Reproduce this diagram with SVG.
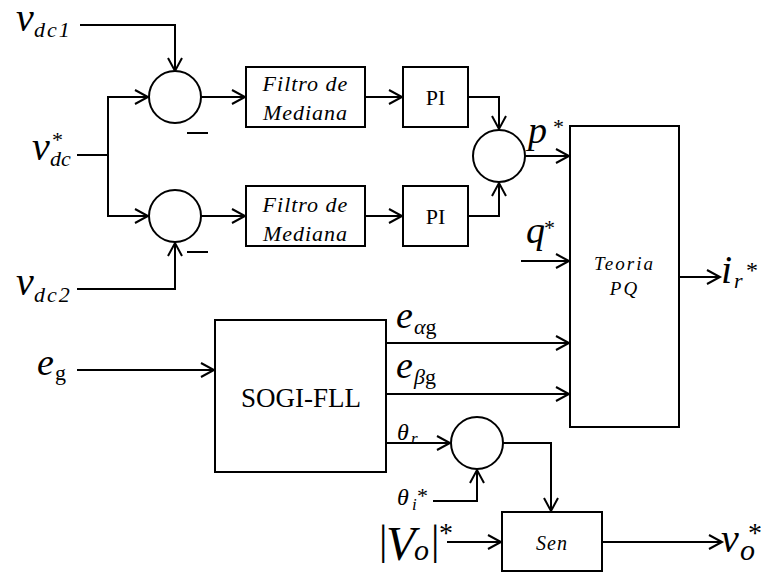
<svg xmlns="http://www.w3.org/2000/svg" width="761" height="572" viewBox="0 0 761 572">
<defs>
<style>
.blk{fill:#fff;stroke:#000;stroke-width:2}
.sum{fill:#fff;stroke:#000;stroke-width:2}
.w{fill:none;stroke:#000;stroke-width:2}
.wa{fill:none;stroke:#000;stroke-width:2;marker-end:url(#ah)}
.t{font-family:"Liberation Serif","Times New Roman",serif;fill:#000}
.i{font-style:italic}
.n{font-style:normal}
</style>
<marker id="ah" markerUnits="userSpaceOnUse" viewBox="0 0 15 16" refX="14" refY="8" markerWidth="15" markerHeight="16" orient="auto" overflow="visible">
<path d="M1,1 L14,8 L1,15" fill="none" stroke="#000" stroke-width="2"/>
</marker>
</defs>
<rect width="761" height="572" fill="#fff"/>

<g id="connectors">
<path class="wa" d="M80,25 H175 V71"/>
<path class="w" d="M77,155 H108"/>
<path class="wa" d="M108,155 V97 H148"/>
<path class="wa" d="M108,155 V216 H148"/>
<path class="wa" d="M77,289 H175 V243"/>
<path class="wa" d="M201,97 H245"/>
<path class="wa" d="M201,216 H245"/>
<path class="wa" d="M365,97 H402"/>
<path class="wa" d="M365,216 H402"/>
<path class="wa" d="M468,97 H499 V129"/>
<path class="wa" d="M468,216 H499 V183"/>
<path class="wa" d="M525,156 H569"/>
<path class="wa" d="M521,261 H569"/>
<path class="wa" d="M679,277 H720"/>
<path class="wa" d="M77,370 H214"/>
<path class="wa" d="M386,343 H569"/>
<path class="wa" d="M386,394 H569"/>
<path class="wa" d="M386,443 H450"/>
<path class="wa" d="M433,501 H477 V470"/>
<path class="wa" d="M503,443 H551 V511"/>
<path class="wa" d="M447,542 H501"/>
<path class="wa" d="M602,542 H722"/>
<path class="w" d="M187,133 H208" stroke-width="1.5"/>
<path class="w" d="M187,252 H208" stroke-width="1.5"/>
</g>

<g id="sum1"><circle class="sum" cx="175" cy="97" r="26"/></g>
<g id="sum2"><circle class="sum" cx="175" cy="216" r="26"/></g>
<g id="sum3"><circle class="sum" cx="499" cy="156" r="26"/></g>
<g id="sum4"><circle class="sum" cx="477" cy="443" r="26"/></g>

<g id="filtro1">
<rect class="blk" x="246" y="67" width="119" height="60"/>
<text class="t i" x="305.5" y="91" font-size="22" text-anchor="middle" letter-spacing="1">Filtro de</text>
<text class="t i" x="305.5" y="120" font-size="22" text-anchor="middle" letter-spacing="1">Mediana</text>
</g>
<g id="filtro2">
<rect class="blk" x="246" y="186" width="119" height="60"/>
<text class="t i" x="305.5" y="212" font-size="22" text-anchor="middle" letter-spacing="1">Filtro de</text>
<text class="t i" x="305.5" y="241" font-size="22" text-anchor="middle" letter-spacing="1">Mediana</text>
</g>
<g id="pi1">
<rect class="blk" x="403" y="67" width="65" height="60"/>
<text class="t" x="435.5" y="105" font-size="22" text-anchor="middle">PI</text>
</g>
<g id="pi2">
<rect class="blk" x="403" y="186" width="65" height="60"/>
<text class="t" x="435.5" y="224" font-size="22" text-anchor="middle">PI</text>
</g>
<g id="teoriapq">
<rect class="blk" x="570" y="126" width="109" height="301"/>
<text class="t i" x="624.5" y="270" font-size="19" text-anchor="middle" letter-spacing="2">Teoria</text>
<text class="t i" x="624.5" y="295" font-size="19" text-anchor="middle" letter-spacing="2">PQ</text>
</g>
<g id="sogi">
<rect class="blk" x="215" y="320" width="171" height="152"/>
<text class="t" x="301" y="407" font-size="27" text-anchor="middle">SOGI-FLL</text>
</g>
<g id="sen">
<rect class="blk" x="502" y="512" width="100" height="59"/>
<text class="t i" x="552" y="550" font-size="20" text-anchor="middle" letter-spacing="1">Sen</text>
</g>

<g id="labels">
<text class="t i"><tspan x="16" y="31" font-size="40">v</tspan><tspan x="34" y="37" font-size="22" letter-spacing="2">dc1</tspan></text>

<text class="t i"><tspan x="32" y="160" font-size="40">v</tspan><tspan class="n" x="52" y="147" font-size="22">*</tspan><tspan x="50" y="166" font-size="22">dc</tspan></text>

<text class="t i"><tspan x="16" y="295" font-size="40">v</tspan><tspan x="34" y="302" font-size="22" letter-spacing="2">dc2</tspan></text>

<text class="t i"><tspan x="37" y="375" font-size="38">e</tspan><tspan class="n" x="55" y="380" font-size="22">g</tspan></text>

<text class="t i"><tspan x="528" y="143" font-size="38">p</tspan><tspan class="n" x="553" y="134" font-size="22">*</tspan></text>

<text class="t i"><tspan x="526" y="243" font-size="38">q</tspan><tspan class="n" x="544" y="235" font-size="22">*</tspan></text>

<text class="t i"><tspan x="721" y="283" font-size="40">i</tspan><tspan x="734" y="288" font-size="22">r</tspan><tspan class="n" x="746" y="278" font-size="24">*</tspan></text>

<text class="t i"><tspan x="396" y="328" font-size="38">e</tspan><tspan x="414" y="334" font-size="22">α</tspan><tspan class="n" font-size="22">g</tspan></text>

<text class="t i"><tspan x="396" y="378" font-size="38">e</tspan><tspan x="414" y="384" font-size="22">β</tspan><tspan class="n" font-size="22">g</tspan></text>

<text class="t i"><tspan x="397" y="440" font-size="24">θ</tspan><tspan x="411" y="444" font-size="17">r</tspan></text>

<text class="t i"><tspan x="397" y="505" font-size="24">θ</tspan><tspan x="412" y="510" font-size="17">i</tspan><tspan class="n" x="417" y="503" font-size="22">*</tspan></text>

<text class="t i"><tspan class="n" x="379" y="554" font-size="42">|</tspan><tspan x="386" y="560" font-size="48">V</tspan><tspan x="414" y="560" font-size="30">o</tspan><tspan class="n" x="431" y="554" font-size="42">|</tspan><tspan class="n" x="439" y="542" font-size="28">*</tspan></text>

<text class="t i"><tspan x="721" y="552" font-size="40">v</tspan><tspan x="740" y="560" font-size="30">o</tspan><tspan class="n" x="748" y="542" font-size="28">*</tspan></text>
</g>
</svg>
